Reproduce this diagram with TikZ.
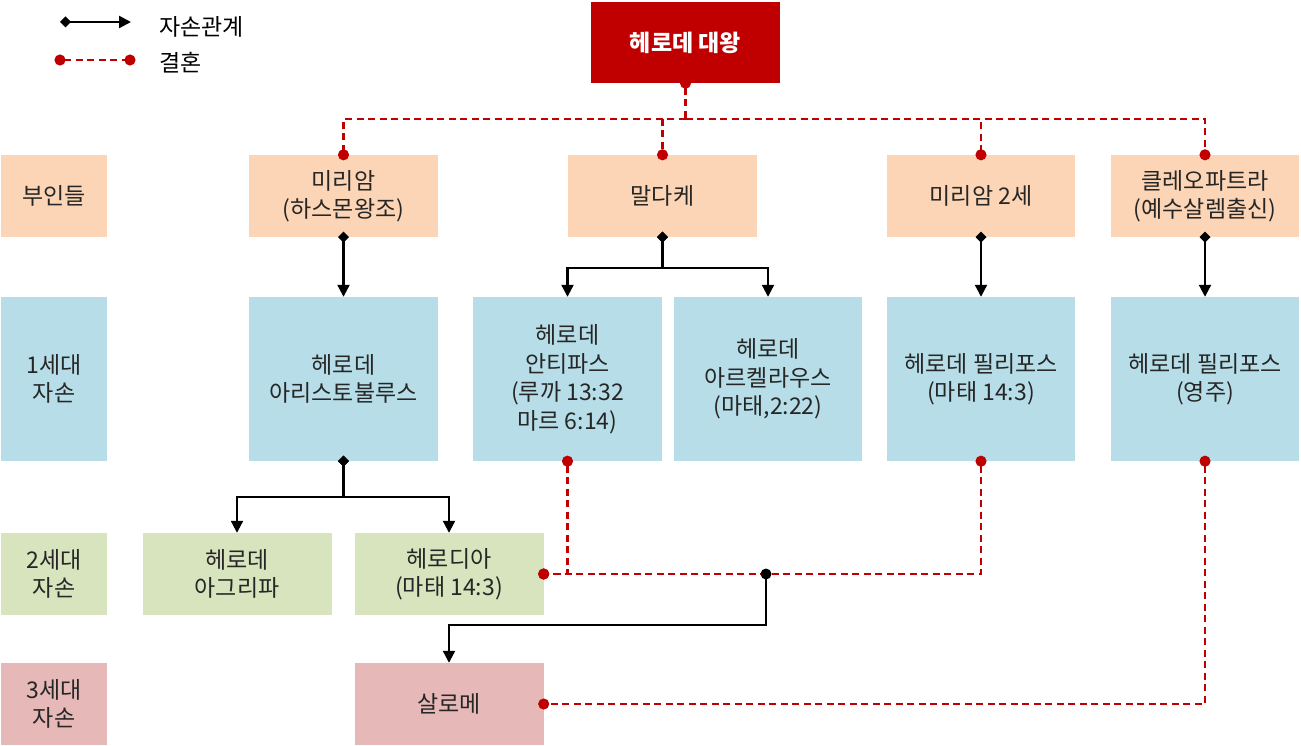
\documentclass[tikz,border=0pt]{standalone}
\usepackage{fontspec}
\setmainfont{Noto Sans CJK KR}
\usetikzlibrary{arrows.meta}
\definecolor{kingred}{HTML}{C00000}
\definecolor{peach}{HTML}{FBD5B5}
\definecolor{sky}{HTML}{B7DEE8}
\definecolor{olive}{HTML}{D7E4BD}
\definecolor{rose}{HTML}{E6B9B8}
\definecolor{txt}{HTML}{262626}
\begin{document}
\begin{tikzpicture}[x=1pt,y=-1pt,
  font=\fontsize{23}{28.5}\selectfont,
  box/.style={draw=none,inner sep=0pt,align=center,text=txt},
  r1/.style={box,fill=peach,minimum height=82pt},
  r2/.style={box,fill=sky,minimum height=164pt},
  r3/.style={box,fill=olive,minimum height=82pt},
  r4/.style={box,fill=rose,minimum height=82pt},
  wide/.style={minimum width=189pt},
  lab/.style={minimum width=106pt},
  desc/.style={draw=black,line width=2.2pt,{Diamond[length=11pt,width=11pt]}-{Triangle[length=12pt,width=12pt]},shorten <=-5.5pt},
  child/.style={draw=black,line width=2.2pt,-{Triangle[length=12pt,width=12pt]}},
  marr/.style={draw=kingred,line width=2.2pt,dash pattern=on 7pt off 4.5pt},
  dotstart/.style={{Circle[length=11pt]}-,shorten <=-5.5pt},
  dotend/.style={-{Circle[length=11pt]},shorten >=-5.5pt},
  dotboth/.style={{Circle[length=11pt]}-{Circle[length=11pt]},shorten <=-5.5pt,shorten >=-5.5pt}
]
\useasboundingbox (0,0) rectangle (1301,746);

% king
\node[box,fill=kingred,minimum width=189pt,minimum height=81pt,text=white,font=\fontsize{23}{28.5}\selectfont\bfseries] (king) at (685.5,42.5) {헤로데 대왕};

% row 1
\node[r1,lab] (l1) at (54,196) {부인들};
\node[r1,wide] (w1) at (343.5,196) {미리암\\(하스몬왕조)};
\node[r1,wide] (w2) at (662.5,196) {말다케};
\node[r1,minimum width=188pt] (w3) at (981,196) {미리암 2세};
\node[r1,minimum width=188pt] (w4) at (1205,196) {클레오파트라\\(예수살렘출신)};

% row 2
\node[r2,lab] (l2) at (54,379) {1세대\\자손};
\node[r2,wide] (c1) at (343.5,379) {헤로데\\아리스토불루스};
\node[r2,wide] (c2) at (567.5,379) {헤로데\\안티파스\\(루까 13:32\\마르 6:14)};
\node[r2,minimum width=188pt] (c3) at (768,379) {헤로데\\아르켈라우스\\(마태,2:22)};
\node[r2,minimum width=188pt] (c4) at (981,379) {헤로데 필리포스\\(마태 14:3)};
\node[r2,minimum width=188pt] (c5) at (1205,379) {헤로데 필리포스\\(영주)};

% row 3
\node[r3,lab] (l3) at (54,574) {2세대\\자손};
\node[r3,wide] (g1) at (237,574) {헤로데\\아그리파};
\node[r3,wide] (g2) at (449,574) {헤로디아\\(마태 14:3)};

% row 4
\node[r4,lab] (l4) at (54,704) {3세대\\자손};
\node[r4,wide] (s1) at (449,704) {살로메};

% legend
\coordinate (la1) at (60,22);
\coordinate (la2) at (131,22);
\coordinate (lb1) at (60,60);
\coordinate (lb2) at (130,60);
\draw[desc,shorten <=0pt] (la1) -- (la2);
\draw[marr,{Circle[length=11pt]}-{Circle[length=11pt]},shorten <=-5.5pt,shorten >=-5.5pt] (lb1) -- (lb2);
\node[anchor=west,inner sep=0pt,text=black] (leg1) at (159,27) {자손관계};
\node[anchor=west,inner sep=0pt,text=black] (leg2) at (159,63) {결혼};

% marriages of the king
\coordinate (mk) at (685.5,119);
\draw[marr,dotstart] (king.south) -- (mk);
\draw[marr,dotend] (mk) -| (w1.north);
\draw[marr,dotend] (mk) -| (w2.north);
\draw[marr,dotend] (mk) -| (w3.north);
\draw[marr,dotend] (mk) -| (w4.north);

% children of wives
\draw[desc] (w1.south) -- (c1.north);
\draw[desc] (w2.south) -- ++(0,31) -| (c2.north);
\draw[desc] (w2.south) -- ++(0,31) -| (c3.north);
\draw[desc] (w3.south) -- (c4.north);
\draw[desc] (w4.south) -- (c5.north);

% children of Aristobulus
\draw[desc] (c1.south) -- ++(0,36) -| (g1.north);
\draw[desc] (c1.south) -- ++(0,36) -| (g2.north);

% marriages of Herodias
\draw[marr,dotboth] (c2.south) |- (g2.east);
\draw[marr,dotboth] (c4.south) |- (g2.east);

% Salome
\coordinate (jn) at (766,574);
\fill[black] (jn) circle (5.5pt);
\draw[child] (jn) -- ++(0,51) -| (s1.north);
\draw[marr,dotboth] (c5.south) |- (s1.east);
\end{tikzpicture}
\end{document}
